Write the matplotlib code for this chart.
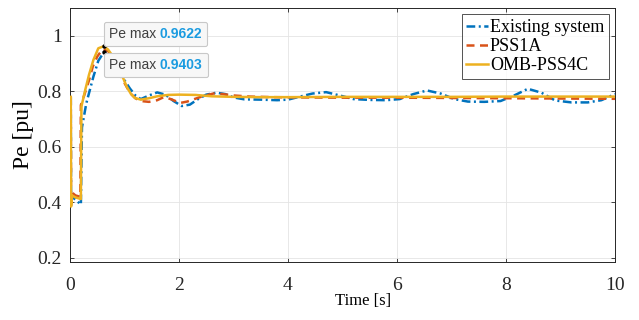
import matplotlib
matplotlib.use("Agg")
import matplotlib.pyplot as plt
from matplotlib.ticker import FuncFormatter
from matplotlib.offsetbox import TextArea, HPacker, AnnotationBbox

# Pe response after the disturbance, three controller cases
t_existing = [0.015, 0.02, 0.04, 0.1, 0.2, 0.22, 0.3, 0.43, 0.52, 0.62, 0.72, 0.82, 0.92,
              1.0, 1.1, 1.2, 1.3, 1.45, 1.6, 1.75, 1.9, 2.05, 2.2, 2.35, 2.5, 2.69, 2.85,
              3.0, 3.2, 3.5, 3.8, 4.0, 4.2, 4.45, 4.7, 4.95, 5.2, 5.5, 5.8, 6.05, 6.3,
              6.55, 6.8, 7.05, 7.3, 7.6, 7.9, 8.15, 8.4, 8.65, 8.9, 9.2, 9.5, 9.75, 10]
pe_existing = [0.78, 0.40, 0.42, 0.41, 0.392, 0.67, 0.757, 0.853, 0.91, 0.9403, 0.93, 0.90,
               0.87, 0.84, 0.81, 0.785, 0.772, 0.785, 0.796, 0.788, 0.765, 0.747, 0.752,
               0.772, 0.788, 0.795, 0.79, 0.778, 0.771, 0.77, 0.768, 0.77, 0.78, 0.792,
               0.797, 0.785, 0.772, 0.769, 0.768, 0.772, 0.79, 0.803, 0.792, 0.772, 0.763,
               0.762, 0.765, 0.785, 0.809, 0.795, 0.767, 0.76, 0.76, 0.768, 0.79]

t_pss1a = [0.015, 0.02, 0.04, 0.1, 0.19, 0.2, 0.26, 0.35, 0.42, 0.5, 0.6, 0.7, 0.8, 0.9,
           1.0, 1.1, 1.2, 1.3, 1.45, 1.6, 1.72, 1.85, 2.02, 2.15, 2.4, 2.63, 2.8, 3.0, 3.3,
           3.7, 4.2, 5, 6, 7, 8, 9, 10]
pe_pss1a = [0.78, 0.39, 0.435, 0.425, 0.42, 0.75, 0.785, 0.84, 0.89, 0.925, 0.952, 0.945,
            0.915, 0.87, 0.83, 0.795, 0.775, 0.765, 0.762, 0.768, 0.779, 0.772, 0.758,
            0.763, 0.78, 0.792, 0.79, 0.785, 0.781, 0.779, 0.778, 0.777, 0.777, 0.776,
            0.775, 0.774, 0.773]

t_omb = [0.015, 0.02, 0.04, 0.1, 0.2, 0.21, 0.28, 0.35, 0.43, 0.52, 0.62, 0.7, 0.78, 0.86,
         0.95, 1.04, 1.12, 1.19, 1.3, 1.45, 1.6, 1.8, 2.0, 2.3, 2.6, 3.0, 3.5, 4, 5, 6, 7,
         8, 9, 10]
pe_omb = [0.78, 0.385, 0.425, 0.418, 0.412, 0.745, 0.805, 0.86, 0.913, 0.955, 0.9622, 0.95,
          0.928, 0.90, 0.86, 0.817, 0.79, 0.776, 0.77, 0.775, 0.782, 0.787, 0.788, 0.787,
          0.782, 0.78, 0.779, 0.779, 0.78, 0.78, 0.78, 0.781, 0.781, 0.781]

labels = ["Existing system", "PSS1A", "OMB-PSS4C"]
x_ticks = [0, 2, 4, 6, 8, 10]
y_ticks = [0.2, 0.4, 0.6, 0.8, 1.0]

plt.rcParams["font.family"] = ["Liberation Serif", "DejaVu Serif"]

fig = plt.figure(figsize=(6.39, 3.2), dpi=100)
ax = fig.add_axes([0.1095, 0.181, 0.853, 0.794])

ax.plot(t_existing, pe_existing, color="#0072BD", lw=1.8, zorder=3,
        linestyle=(0, (3.5, 1.4, 0.8, 1.4)), label=labels[0])
ax.plot(t_pss1a, pe_pss1a, color="#D95319", lw=1.8, zorder=3,
        linestyle=(0, (3.2, 2.2)), label=labels[1])
ax.plot(t_omb, pe_omb, color="#EDB120", lw=1.8, zorder=3, label=labels[2])

ax.set_xlim(0, 10)
ax.set_ylim(0.185, 1.1)
ax.set_xticks(x_ticks)
ax.set_yticks(y_ticks)
ax.yaxis.set_major_formatter(FuncFormatter(lambda v, p: f"{v:g}"))
ax.tick_params(direction="in", length=3, width=0.6, colors="#262626",
               labelsize=14, top=True, right=True)
ax.tick_params(axis="x", pad=11)
ax.tick_params(axis="y", pad=6)
for s in ax.spines.values():
    s.set_color("#262626")
    s.set_linewidth(0.7)
ax.grid(True, color="#e4e4e4", lw=0.6)
ax.set_axisbelow(True)

ax.set_xlabel("Time [s]", fontsize=12)
ax.xaxis.set_label_coords(0.538, -0.122)
ax.set_ylabel("Pe [pu]", fontsize=17, labelpad=2)

leg = ax.legend(loc="upper right", fontsize=13, frameon=True, fancybox=False,
                handlelength=1.2, handletextpad=0.1, labelspacing=0.12,
                borderpad=0.25, borderaxespad=0.35)
leg.get_frame().set_edgecolor("#262626")
leg.get_frame().set_linewidth(0.7)
leg.set_zorder(8)


def datatip(t_arr, pe_arr, dy):
    i = max(range(len(pe_arr)), key=lambda k: pe_arr[k])
    x, y = t_arr[i], pe_arr[i]
    ax.plot([x], [y], "o", color="k", ms=2.2, zorder=6)
    name = TextArea("Pe max ", textprops=dict(family="Liberation Sans",
                                              size=10, color="#404040"))
    val = TextArea(f"{y:.4f}", textprops=dict(family="Liberation Sans", size=10,
                                              color="#1a9be0", weight="bold"))
    box = HPacker(children=[name, val], pad=0, sep=0, align="baseline")
    ab = AnnotationBbox(box, (x, y), xybox=(3.6, dy), xycoords="data",
                        boxcoords="offset points", box_alignment=(0, 0 if dy > 0 else 1),
                        pad=0.0, frameon=True, zorder=7,
                        bboxprops=dict(boxstyle="round,pad=0.36,rounding_size=0.15",
                                       facecolor="#f7f7f7", edgecolor="#c8c8c8", lw=0.8))
    ax.add_artist(ab)


datatip(t_omb, pe_omb, 3.6)
datatip(t_existing, pe_existing, -4.0)

fig.savefig("out.png", dpi=100)
